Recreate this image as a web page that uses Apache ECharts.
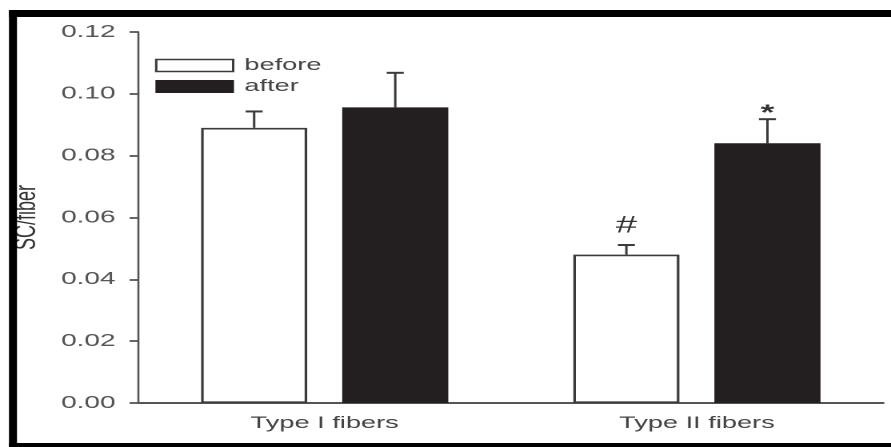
<!DOCTYPE html>
<html>
<head>
<meta charset="utf-8">
<script src="https://cdn.jsdelivr.net/npm/echarts@6/dist/echarts.min.js"></script>
<style>
html,body{margin:0;padding:0;background:#fff;overflow:hidden;}
#wrap{width:891px;height:447px;overflow:hidden;position:relative;}
#chart{width:557px;height:447px;transform:scaleX(1.59964);transform-origin:0 0;}
</style>
</head>
<body>
<div id="wrap"><div id="chart"></div></div>
<script>
const categories = ['Type I fibers', 'Type II fibers'];
const beforeValues = [0.089, 0.048];
const afterValues = [0.0956, 0.084];
const beforeErrTop = [0.0943, 0.0511];
const afterErrTop = [0.1068, 0.0918];
const beforeMarks = ['', '#'];
const afterMarks = ['', '*'];
const yTicks = [0, 0.02, 0.04, 0.06, 0.08, 0.10, 0.12];

const S = 891 / 557;          // horizontal stretch of the whole figure
const px = v => v / S;        // screen px -> chart px (horizontal)
const BAR_FRAC = 0.285;
const GAP_FRAC = 0.33;
const AX = '#3a3a3a';
const FONT = '"Liberation Sans", Arial, sans-serif';

function errSeries(name, tops, vals, marks, side) {
  return {
    type: 'custom',
    name: name + '_err',
    z: 5,
    data: categories.map((c, i) => [i, vals[i], tops[i], marks[i]]),
    renderItem: function (params, api) {
      const i = api.value(0);
      const band = api.size([1, 0])[0];
      const off = side * (BAR_FRAC * band * (1 + GAP_FRAC)) / 2;
      const base = api.coord([i, api.value(1)]);
      const top = api.coord([i, api.value(2)]);
      const x = base[0] + off;
      const cap = px(8.5);
      const children = [
        { type: 'line', shape: { x1: x, y1: base[1], x2: x, y2: top[1] }, style: { stroke: AX, lineWidth: 1.5 } },
        { type: 'line', shape: { x1: x - cap, y1: top[1], x2: x + cap, y2: top[1] }, style: { stroke: AX, lineWidth: 2 } }
      ];
      const mark = marks[i];
      if (mark) {
        children.push({
          type: 'text',
          style: {
            text: mark, x: x, y: top[1] + (mark === '#' ? -7 : 6),
            align: 'center', verticalAlign: 'bottom',
            font: (mark === '#' ? '24px ' : 'bold 22px ') + FONT,
            fill: '#333'
          }
        });
      }
      return { type: 'group', children: children };
    }
  };
}

const chart = echarts.init(document.getElementById('chart'), null, { renderer: 'canvas', devicePixelRatio: 2 });
chart.setOption({
  animation: false,
  backgroundColor: '#fff',
  textStyle: { fontFamily: FONT },
  grid: { left: px(132), right: px(8), top: 32, bottom: 44 },
  legend: {
    left: px(155), top: 57, orient: 'vertical', padding: 0,
    itemWidth: px(77), itemHeight: 12, itemGap: 4,
    icon: 'rect',
    textStyle: { fontSize: 17, color: '#444', padding: [0, 0, 0, 2] },
    data: [
      { name: 'before', itemStyle: { color: '#fff', borderColor: AX, borderWidth: 1.5 } },
      { name: 'after', itemStyle: { color: '#231f20', borderColor: '#231f20', borderWidth: 1 } }
    ]
  },
  xAxis: {
    type: 'category', data: categories,
    axisLine: { lineStyle: { color: '#555', width: 2 } },
    axisTick: { alignWithLabel: true, length: 5, lineStyle: { color: '#555', width: 1.3 } },
    axisLabel: { color: '#444', fontSize: 17, margin: 12 }
  },
  yAxis: {
    type: 'value', min: 0, max: 0.12, interval: 0.02,
    name: 'SC/fiber', nameLocation: 'middle', nameGap: px(97), nameRotate: 90,
    nameTextStyle: { color: '#333', fontSize: 18, fontFamily: FONT },
    axisLine: { show: true, lineStyle: { color: '#555', width: 1.3 } },
    axisTick: { show: true, length: px(9), lineStyle: { color: '#555', width: 1.8 } },
    axisLabel: {
      color: '#555', fontSize: 17.5, margin: px(23),
      formatter: v => { const t = yTicks.find(k => Math.abs(k - v) < 1e-9); return (t !== undefined ? t : v).toFixed(2); }
    },
    splitLine: { show: false }
  },
  series: [
    {
      name: 'before', type: 'bar', data: beforeValues,
      barWidth: (BAR_FRAC * 100) + '%', barGap: (GAP_FRAC * 100) + '%',
      itemStyle: { color: '#fff', borderColor: AX, borderWidth: 1.6 }
    },
    {
      name: 'after', type: 'bar', data: afterValues,
      barWidth: (BAR_FRAC * 100) + '%', barGap: (GAP_FRAC * 100) + '%',
      itemStyle: { color: '#231f20', borderColor: '#231f20', borderWidth: 1 }
    },
    errSeries('before', beforeErrTop, beforeValues, beforeMarks, -1),
    errSeries('after', afterErrTop, afterValues, afterMarks, 1)
  ],
  graphic: [
    { type: 'rect', shape: { x: px(9), y: 10, width: px(882), height: 7 }, style: { fill: '#000' }, z: 100 },
    { type: 'rect', shape: { x: px(9), y: 10, width: px(8), height: 437 }, style: { fill: '#000' }, z: 100 },
    { type: 'rect', shape: { x: px(9), y: 443, width: px(882), height: 4 }, style: { fill: '#000' }, z: 100 }
  ]
});
</script>
</body>
</html>
